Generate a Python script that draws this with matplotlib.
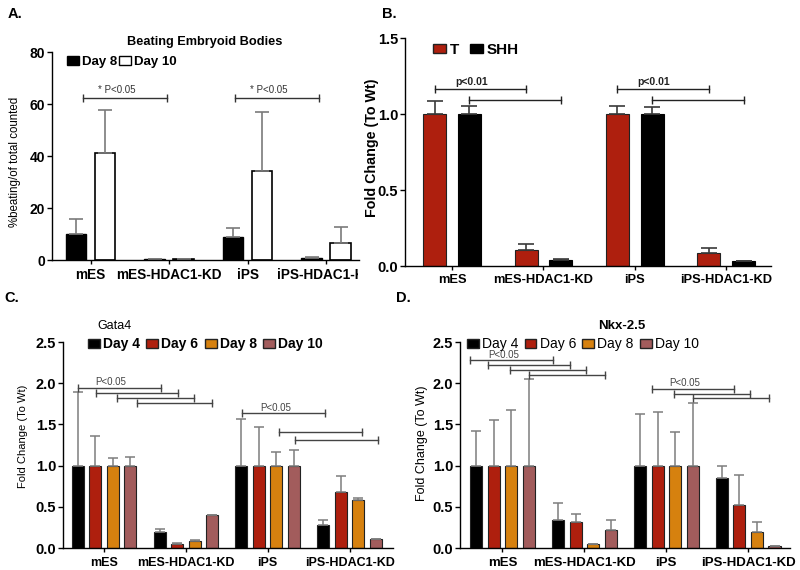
import matplotlib
matplotlib.use("Agg")
import matplotlib.pyplot as plt
from matplotlib.patches import Patch
from matplotlib.transforms import Bbox
import numpy as np

plt.rcParams['font.family'] = ['Liberation Sans', 'DejaVu Sans']

# ---------------- data ----------------
groups = ["mES", "mES-HDAC1-KD", "iPS", "iPS-HDAC1-KD"]

# Panel A: beating embryoid bodies (%)
a_series = ["Day 8", "Day 10"]
a_day8 = [10.0, 0.2, 8.8, 0.6]
a_day8_err = [5.7, 0.0, 3.4, 0.7]
a_day10 = [41.3, 0.2, 34.2, 6.6]
a_day10_err = [16.4, 0.0, 22.6, 6.0]

# Panel B: T / SHH fold change
b_series = ["T", "SHH"]
b_T = [1.0, 0.105, 1.0, 0.083]
b_T_err = [0.087, 0.038, 0.055, 0.033]
b_SHH = [1.0, 0.040, 1.0, 0.030]
b_SHH_err = [0.055, 0.005, 0.044, 0.005]

# Panel C: Gata4
day_series = ["Day 4", "Day 6", "Day 8", "Day 10"]
c_d4 = [1.0, 0.19, 1.0, 0.274]
c_d4_err = [0.895, 0.04, 0.565, 0.065]
c_d6 = [1.0, 0.052, 1.0, 0.685]
c_d6_err = [0.363, 0.008, 0.472, 0.194]
c_d8 = [1.0, 0.089, 1.0, 0.577]
c_d8_err = [0.089, 0.011, 0.169, 0.028]
c_d10 = [1.0, 0.395, 1.0, 0.109]
c_d10_err = [0.109, 0.005, 0.19, 0.003]

# Panel D: Nkx-2.5
d_d4 = [1.0, 0.339, 1.0, 0.855]
d_d4_err = [0.419, 0.205, 0.621, 0.141]
d_d6 = [1.0, 0.315, 1.0, 0.524]
d_d6_err = [0.552, 0.096, 0.645, 0.363]
d_d8 = [1.0, 0.048, 1.0, 0.194]
d_d8_err = [0.673, 0.004, 0.411, 0.121]
d_d10 = [1.0, 0.222, 1.0, 0.024]
d_d10_err = [1.056, 0.117, 0.754, 0.003]

# significance brackets: (x_start, x_end, y, label)
a_brackets = [(-0.10, 0.976, 62.5, "* P<0.05"), (1.84, 2.91, 62.5, "* P<0.05")]
b_brackets = [(-0.19, 0.81, 1.162, "p<0.01"), (0.19, 1.19, 1.092, ""),
              (1.81, 2.81, 1.162, "p<0.01"), (2.19, 3.19, 1.092, "")]
c_brackets = [(-0.318, 0.697, 1.944, "P<0.05"), (-0.098, 0.905, 1.883, ""),
              (0.159, 1.100, 1.823, ""), (0.403, 1.320, 1.762, ""),
              (1.687, 2.702, 1.633, "P<0.05"), (2.139, 3.154, 1.403, ""),
              (2.335, 3.350, 1.310, "")]
d_brackets = [(-0.396, 0.618, 2.278, "P<0.05"), (-0.176, 0.825, 2.226, ""),
              (0.093, 1.021, 2.165, ""), (0.325, 1.253, 2.105, ""),
              (1.827, 2.828, 1.935, "P<0.05"), (2.095, 3.023, 1.875, ""),
              (2.327, 3.255, 1.815, "")]

RED = "#AE1F0E"
ORANGE = "#D6810F"
MAUVE = "#A25C5C"
BLACK = "#000000"

W, H = 800, 570
fig = plt.figure(figsize=(8, 5.7), dpi=100)


def px_axes(l, t, r, b):
    return fig.add_axes([l / W, 1 - b / H, (r - l) / W, (b - t) / H])


def style(ax, tickfs=10, xfs=9):
    for s in ["top", "right"]:
        ax.spines[s].set_visible(False)
    for s in ["left", "bottom"]:
        ax.spines[s].set_linewidth(1.0)
    ax.tick_params(axis="y", direction="out", length=3.5, width=1, labelsize=tickfs, pad=1.5)
    ax.tick_params(axis="x", direction="out", length=3, width=1, labelsize=xfs, pad=3)
    for lab in ax.get_yticklabels() + ax.get_xticklabels():
        lab.set_fontweight("bold")


def draw_brackets(ax, brackets, color, fs, weight, dy):
    for x1, x2, y, lab in brackets:
        ax.plot([x1, x2], [y, y], color=color, lw=1.0, marker="|", markersize=6,
                markeredgewidth=1.0, clip_on=False)
        if lab:
            ax.text((x1 + x2) / 2 - (x2 - x1) * 0.1, y + dy, lab, ha="center", va="bottom",
                    fontsize=fs, fontweight=weight, color=color)


x = np.arange(len(groups))

# ---------------- Panel A ----------------
axA = px_axes(52, 52, 359, 260)
offA, wA = 0.185, 0.26
axA.bar(x - offA, a_day8, wA, color=BLACK, edgecolor=BLACK, linewidth=1)
axA.bar(x + offA, a_day10, wA, color="white", edgecolor=BLACK, linewidth=1.2)
axA.errorbar(x - offA, a_day8, yerr=[np.zeros(4), a_day8_err], fmt="none",
             ecolor="#7a7a7a", elinewidth=1.2, capsize=5, capthick=1.2)
axA.errorbar(x + offA, a_day10, yerr=[np.zeros(4), a_day10_err], fmt="none",
             ecolor="#7a7a7a", elinewidth=1.2, capsize=5, capthick=1.2)
axA.set_xlim(-0.493, 3.42)
axA.set_ylim(0, 80)
axA.set_yticks([0, 20, 40, 60, 80])
axA.set_xticks(x)
axA.set_xticklabels(groups)
style(axA, tickfs=10, xfs=9.8)
axA.set_ylabel("%beating/of total counted", fontsize=8.3)
axA.yaxis.set_label_coords(-0.10, 0.47)
clipbox = Bbox([[0, 0], [358, H]])
for lab in axA.get_xticklabels():
    lab.set_clip_box(clipbox)
    lab.set_clip_on(True)
draw_brackets(axA, a_brackets, "#333333", 7, "normal", 0.8)
axA.legend(handles=[Patch(facecolor=BLACK, edgecolor=BLACK, label="Day 8"),
                    Patch(facecolor="white", edgecolor=BLACK, linewidth=1, label="Day 10")],
           loc="center left", bbox_to_anchor=(0.049, 0.952), ncol=2, frameon=False,
           borderpad=0, borderaxespad=0, handlelength=0.9, handleheight=0.6,
           handletextpad=0.25, columnspacing=0.1, prop={"weight": "bold", "size": 9.5})
fig.text(205 / W, 1 - 42 / H, "Beating Embryoid Bodies", ha="center", va="center",
         fontsize=9.2, fontweight="bold")

# ---------------- Panel B ----------------
axB = px_axes(405, 38, 771, 266)
offB, wB = 0.19, 0.25
axB.bar(x - offB, b_T, wB, color=RED, edgecolor="#222222", linewidth=0.8)
axB.bar(x + offB, b_SHH, wB, color=BLACK, edgecolor=BLACK, linewidth=0.8)
axB.errorbar(x - offB, b_T, yerr=[np.zeros(4), b_T_err], fmt="none",
             ecolor="#3a3a3a", elinewidth=1.2, capsize=6, capthick=1.2)
axB.errorbar(x + offB, b_SHH, yerr=[np.zeros(4), b_SHH_err], fmt="none",
             ecolor="#3a3a3a", elinewidth=1.2, capsize=6, capthick=1.2)
axB.set_xlim(-0.515, 3.49)
axB.set_ylim(0, 1.5)
axB.set_yticks([0, 0.5, 1.0, 1.5])
axB.set_yticklabels(["0.0", "0.5", "1.0", "1.5"])
axB.set_xticks(x)
axB.set_xticklabels(groups)
style(axB, tickfs=10.5, xfs=9.3)
axB.set_ylabel("Fold Change (To Wt)", fontsize=10.3, fontweight="bold")
axB.yaxis.set_label_coords(-0.072, 0.517)
draw_brackets(axB, b_brackets, "#222222", 7.5, "bold", 0.015)
axB.legend(handles=[Patch(facecolor=RED, edgecolor="#222222", label="T"),
                    Patch(facecolor=BLACK, edgecolor=BLACK, label="SHH")],
           loc="center left", bbox_to_anchor=(0.0765, 0.947), ncol=2, frameon=False,
           borderpad=0, borderaxespad=0, handlelength=0.85, handleheight=0.5,
           handletextpad=0.25, columnspacing=0.7, prop={"weight": "bold", "size": 11})


# ---------------- Panels C & D ----------------
def day_panel(l, r, series, errs, brackets, xlim, title, title_x, title_fs, title_bold,
              legend_bold, leg_x, leg_fs, ylabel_x, ylabel_y, label_fs, xfs):
    ax = px_axes(l, 342, r, 548)
    step, w = 0.214, 0.147
    colors = [BLACK, RED, ORANGE, MAUVE]
    for j, (vals, err, col) in enumerate(zip(series, errs, colors)):
        xs = x + (j - 1.5) * step
        ax.bar(xs, vals, w, color=col, edgecolor="#222222", linewidth=0.8)
        ax.errorbar(xs, vals, yerr=[np.zeros(4), err], fmt="none", ecolor="#7d7d7d",
                    elinewidth=1.1, capsize=3.5, capthick=1.1)
    ax.set_xlim(*xlim)
    ax.set_ylim(0, 2.5)
    ax.set_yticks([0, 0.5, 1.0, 1.5, 2.0, 2.5])
    ax.set_yticklabels(["0.0", "0.5", "1.0", "1.5", "2.0", "2.5"])
    ax.set_xticks(x)
    ax.set_xticklabels(groups)
    style(ax, tickfs=10.5, xfs=xfs)
    ax.tick_params(axis="x", pad=3.5)
    ax.set_ylabel("Fold Change (To Wt)", fontsize=label_fs)
    ax.yaxis.set_label_coords(ylabel_x, ylabel_y)
    draw_brackets(ax, brackets, "#444444", 7, "normal", 0.005)
    ax.legend(handles=[Patch(facecolor=c, edgecolor="#222222", label=s)
                       for c, s in zip(colors, day_series)],
              loc="center left", bbox_to_anchor=(leg_x, 0.99), ncol=4, frameon=False,
              borderpad=0, borderaxespad=0, handlelength=0.86, handleheight=0.6,
              handletextpad=0.22, columnspacing=0.45,
              prop={"weight": "bold" if legend_bold else "normal", "size": leg_fs})
    fig.text(title_x / W, 1 - 326 / H, title, ha="center", va="center", fontsize=title_fs,
             fontweight="bold" if title_bold else "normal")
    return ax


axC = day_panel(63, 393, [c_d4, c_d6, c_d8, c_d10],
                [c_d4_err, c_d6_err, c_d8_err, c_d10_err], c_brackets,
                (-0.50, 3.53), "Gata4", 115, 9, False, True, 0.076, 10,
                -0.106, 0.54, 8, 9)
axD = day_panel(460, 790, [d_d4, d_d6, d_d8, d_d10],
                [d_d4_err, d_d6_err, d_d8_err, d_d10_err], d_brackets,
                (-0.518, 3.51), "Nkx-2.5", 622, 9.5, True, False, 0.021, 10,
                -0.097, 0.51, 9, 9.5)

# panel letters
fig.text(8 / W, 1 - 14 / H, "A.", fontsize=10.5, fontweight="bold", va="center")
fig.text(382 / W, 1 - 14 / H, "B.", fontsize=10.5, fontweight="bold", va="center")
fig.text(4 / W, 1 - 298 / H, "C.", fontsize=10.5, fontweight="bold", va="center")
fig.text(396 / W, 1 - 298 / H, "D.", fontsize=10.5, fontweight="bold", va="center")

fig.savefig("out.png", dpi=100, facecolor="white")
